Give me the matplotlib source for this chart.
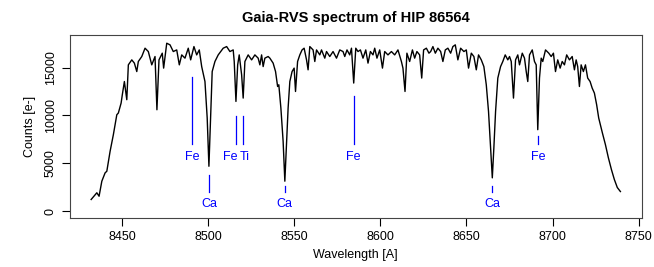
import matplotlib
matplotlib.use("Agg")
import matplotlib.pyplot as plt

plt.rcParams['font.family'] = ['Liberation Sans', 'DejaVu Sans']

# spectrum (wavelength in A, counts in e-)
wave = [8432.0, 8435.3, 8436.6, 8438.2, 8440.1, 8441.1, 8443.0, 8444.9, 8446.9, 8447.8,
        8449.4, 8450.1, 8451.3, 8452.7, 8453.6, 8455.6, 8457.1, 8458.5, 8459.4, 8461.4,
        8463.3, 8465.2, 8467.2, 8469.1, 8470.2, 8471.4, 8473.3, 8474.1, 8475.9, 8477.8,
        8479.7, 8481.7, 8483.2, 8484.6, 8486.5, 8488.4, 8489.8, 8491.7, 8493.3, 8494.8,
        8496.2, 8498.1, 8499.4, 8500.4, 8501.4, 8502.3, 8503.9, 8505.8, 8508.7, 8510.7,
        8512.6, 8514.5, 8515.1, 8516.1, 8517.1, 8518.0, 8519.4, 8520.3, 8521.3, 8523.2,
        8525.2, 8527.1, 8529.0, 8530.0, 8531.0, 8531.9, 8532.9, 8534.8, 8535.8, 8537.7,
        8539.1, 8540.3, 8541.0, 8542.2, 8543.5, 8544.5, 8545.5, 8546.4, 8547.4, 8548.7,
        8549.9, 8550.7, 8551.9, 8553.2, 8554.5, 8555.7, 8557.1, 8558.0, 8559.0, 8560.9,
        8561.9, 8562.9, 8564.8, 8565.8, 8567.7, 8568.7, 8570.6, 8572.5, 8574.5, 8576.4,
        8578.3, 8579.3, 8580.6, 8582.2, 8583.2, 8584.5, 8585.7, 8587.0, 8588.4, 8589.9,
        8591.5, 8592.8, 8594.2, 8595.7, 8596.7, 8598.0, 8599.6, 8601.2, 8602.5, 8604.4,
        8606.4, 8608.3, 8610.2, 8612.2, 8613.1, 8614.3, 8615.4, 8617.0, 8618.6, 8619.9,
        8621.2, 8622.8, 8624.0, 8625.1, 8626.7, 8628.2, 8629.2, 8630.5, 8631.9, 8633.4,
        8635.0, 8636.3, 8637.7, 8639.2, 8640.8, 8642.1, 8643.5, 8645.0, 8646.6, 8648.5,
        8649.9, 8651.2, 8652.8, 8654.3, 8655.7, 8657.0, 8658.6, 8660.1, 8661.5, 8662.8,
        8664.0, 8665.0, 8665.9, 8666.9, 8668.2, 8669.8, 8671.1, 8672.5, 8674.0, 8675.0,
        8676.0, 8677.3, 8678.5, 8679.8, 8680.8, 8682.4, 8683.7, 8684.7, 8685.6, 8686.6,
        8688.2, 8689.5, 8690.5, 8691.4, 8692.4, 8693.4, 8694.3, 8695.9, 8697.8, 8699.2,
        8700.5, 8701.7, 8703.0, 8704.4, 8705.6, 8706.9, 8708.2, 8709.8, 8711.4, 8712.7,
        8713.7, 8714.6, 8715.6, 8716.6, 8717.9, 8719.1, 8720.4, 8721.8, 8723.0, 8724.3,
        8725.6, 8726.8, 8728.9, 8730.7, 8732.4, 8734.2, 8735.9, 8737.6, 8739.4]
counts = [1220, 1920, 1560, 3130, 4000, 4170, 6250, 7990, 10070, 10250,
          11290, 12160, 13540, 11640, 15280, 15800, 15460, 14580, 15630, 16150,
          17020, 16670, 15280, 16150, 10590, 15800, 16500, 14940, 17540, 17370,
          16670, 16840, 15280, 16320, 15980, 17020, 15800, 17190, 16320, 16840,
          15100, 13540, 9730, 4690, 9730, 14580, 15630, 16320, 17020, 17190,
          16670, 16840, 15630, 11460, 15280, 16320, 14240, 11810, 15630, 16320,
          15800, 16320, 15980, 15280, 16320, 15100, 15980, 16150, 15980, 15460,
          14580, 13020, 13200, 10770, 7290, 3130, 7290, 10770, 13540, 14580,
          14940, 12500, 15630, 16320, 16840, 17020, 15800, 14760, 17190, 16840,
          15630, 16840, 16320, 16840, 15980, 16670, 16150, 16670, 15980, 16840,
          16670, 16150, 16840, 16320, 17020, 13380, 17020, 16670, 16840, 15980,
          16840, 15460, 16670, 16320, 17020, 15980, 16840, 14940, 16670, 16320,
          16670, 16320, 16840, 15630, 14940, 12500, 16500, 15630, 16840, 15980,
          16670, 16320, 13900, 16840, 17020, 16500, 16670, 17190, 16500, 17020,
          16670, 15630, 16840, 17020, 16500, 17190, 17370, 15800, 17020, 16670,
          16840, 14940, 16500, 16150, 14760, 16320, 15800, 15100, 13200, 10420,
          6600, 3480, 6600, 10420, 13900, 15100, 15630, 16320, 15800, 16150,
          15630, 11810, 15800, 16320, 15280, 16500, 15980, 14580, 13540, 16320,
          16840, 15630, 15280, 8510, 13900, 15980, 15630, 16840, 16500, 16150,
          16500, 14580, 15800, 14940, 15630, 15280, 16320, 15800, 16150, 14760,
          15800, 15100, 13020, 15280, 14580, 15280, 13900, 13540, 12860, 12330,
          11120, 9730, 8200, 6950, 5590, 4340, 3300, 2470, 2050]

# line identifications: name, wavelength, top of marker, label position
line_name = ['Fe', 'Ca', 'Fe', 'Ti', 'Ca', 'Fe', 'Ca', 'Fe']
line_wave = [8490.5, 8500.6, 8516.0, 8520.3, 8544.5, 8584.5, 8665.0, 8691.4]
line_top = [13960, 3820, 9970, 9970, 2600, 11980, 2600, 7810]
label_wave = [8490.5, 8500.6, 8512.6, 8521.4, 8544.5, 8584.5, 8665.0, 8691.4]

fig = plt.figure(figsize=(6.54, 2.67), dpi=100)
ax = fig.add_axes([0.107, 0.184, 0.874, 0.685])

ax.plot(wave, counts, color='black', lw=1.0)

for name, w, top, lw_ in zip(line_name, line_wave, line_top, label_wave):
    if name == 'Ca':
        ax.plot([w, w], [top, 1950], color='blue', lw=0.9)
        ax.text(lw_, 700, name, color='blue', ha='center', va='center', fontsize=9)
    else:
        ax.plot([w, w], [top, 7000], color='blue', lw=0.9)
        ax.text(lw_, 5700, name, color='blue', ha='center', va='center', fontsize=9)

ax.set_xlim(8419.7, 8751.7)
ax.set_ylim(-700, 18400)
ax.set_xticks([8450, 8500, 8550, 8600, 8650, 8700, 8750])
ax.set_yticks([0, 5000, 10000, 15000])
ax.tick_params(direction='out', length=6, width=0.8, labelsize=9, color='black')
ax.tick_params(axis='y', labelrotation=90)
for lab in ax.get_yticklabels():
    lab.set_va('center')

for s in ax.spines.values():
    s.set_linewidth(0.8)
    s.set_color('#444444')

ax.set_xlabel('Wavelength [A]', fontsize=9, labelpad=4)
ax.set_ylabel('Counts [e-]', fontsize=9, labelpad=6)
ax.set_title('Gaia-RVS spectrum of HIP 86564', fontsize=10.5, fontweight='bold', pad=9)

fig.savefig('out.png', dpi=100)
